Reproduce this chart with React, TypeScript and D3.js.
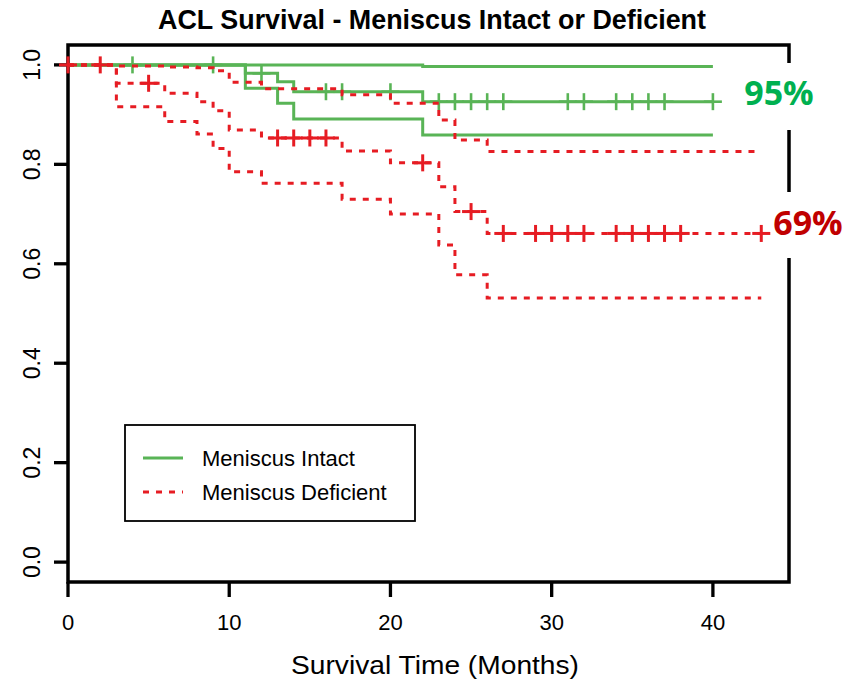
import React from "react";
import * as d3 from "d3";

// ---- Data ----
const xTicks = [0, 10, 20, 30, 40];
const yTicks = [0, 0.2, 0.4, 0.6, 0.8, 1.0];

// Meniscus Intact (step values hold from stepTime[i] until next step)
const intactStepTimes = [0, 11, 13, 14, 22];
const intactSurvival = [1.0, 0.983, 0.966, 0.946, 0.926];
const intactUpper = [1.0, 1.0, 1.0, 1.0, 0.997];
const intactLower = [1.0, 0.953, 0.923, 0.891, 0.859];
const intactEnd = 40;
const intactCensor = [4, 9, 12, 16, 17, 20, 23, 24, 25, 26, 27, 31, 32, 34, 35, 36, 37, 40];

// Meniscus Deficient
const deficientStepTimes = [0, 3, 6, 8, 9, 10, 12, 17, 20, 23, 24, 26];
const deficientSurvival = [1.0, 0.963, 0.943, 0.926, 0.908, 0.869, 0.853, 0.827, 0.803, 0.755, 0.705, 0.661];
const deficientUpper = [1.0, 0.998, 0.996, 0.994, 0.988, 0.965, 0.952, 0.94, 0.923, 0.889, 0.849, 0.826];
const deficientLower = [1.0, 0.916, 0.886, 0.861, 0.832, 0.785, 0.762, 0.73, 0.7, 0.638, 0.578, 0.531];
const deficientEnd = 43;
const deficientCensor = [0, 2, 5, 13, 14, 15, 16, 22, 25, 27, 29, 30, 31, 32, 34, 35, 36, 37, 38, 43];

const legendLabels = ["Meniscus Intact", "Meniscus Deficient"];
const intactLabel = "95%";
const deficientLabel = "69%";

const GREEN = "#59b456";
const RED = "#e61c23";

export default function App() {
  const left = 68, right = 789, top = 45, bottom = 582;
  const x = d3.scaleLinear().domain([0, 44.72]).range([left, right]);
  const y = d3.scaleLinear().domain([-0.04, 1.04]).range([bottom, top]);

  const line = d3
    .line<[number, number]>()
    .x((d) => x(d[0]))
    .y((d) => y(d[1]))
    .curve(d3.curveStepAfter);

  const stepPath = (times: number[], vals: number[], end: number) => {
    const pts: [number, number][] = times.map((t, i) => [t, vals[i]]);
    pts.push([end, vals[vals.length - 1]]);
    return line(pts) || "";
  };

  const valueAt = (times: number[], vals: number[], t: number) => {
    let v = vals[0];
    for (let i = 0; i < times.length; i++) if (times[i] <= t) v = vals[i];
    return v;
  };

  const sans = "'Liberation Sans', Arial, Helvetica, sans-serif";
  const narrow = "'Liberation Sans Narrow', 'Arial Narrow', 'Liberation Sans', Arial, sans-serif";
  const labelFont = "'Open Sans', 'Noto Sans', sans-serif";
  const dash = "6 7";

  const plus = (cx: number, cy: number, color: string, key: string, sw: number) => (
    <g key={key} stroke={color} strokeWidth={sw}>
      <line x1={cx - 9} x2={cx + 9} y1={cy} y2={cy} />
      <line x1={cx} x2={cx} y1={cy - 8.5} y2={cy + 8.5} />
    </g>
  );

  return (
    <svg width={851} height={682} style={{ position: "absolute", left: 0, top: 0, background: "#fff" }}>
      <rect x={0} y={0} width={851} height={682} fill="#fff" />
      {/* Title */}
      <text
        x={432}
        y={29}
        textAnchor="middle"
        fontFamily={narrow}
        fontWeight="bold"
        fontSize={27}
        textLength={548}
        lengthAdjust="spacingAndGlyphs"
      >
        ACL Survival - Meniscus Intact or Deficient
      </text>

      {/* Box */}
      <rect x={left} y={top} width={right - left} height={bottom - top} fill="none" stroke="#000" strokeWidth={3.5} />

      {/* X axis ticks */}
      {xTicks.map((t) => (
        <g key={"xt" + t}>
          <line x1={x(t)} x2={x(t)} y1={bottom} y2={bottom + 15} stroke="#000" strokeWidth={3.3} />
          <text x={x(t)} y={630} textAnchor="middle" fontFamily={sans} fontSize={22}>
            {t}
          </text>
        </g>
      ))}
      <text
        x={435}
        y={674}
        textAnchor="middle"
        fontFamily={sans}
        fontSize={26}
        textLength={288}
        lengthAdjust="spacingAndGlyphs"
      >
        Survival Time (Months)
      </text>

      {/* Y axis ticks */}
      {yTicks.map((t) => (
        <g key={"yt" + t}>
          <line x1={left - 14} x2={left} y1={y(t)} y2={y(t)} stroke="#000" strokeWidth={3.3} />
          <text
            transform={`translate(40,${y(t)}) rotate(-90)`}
            textAnchor="middle"
            fontFamily={sans}
            fontSize={23}
          >
            {t.toFixed(1)}
          </text>
        </g>
      ))}

      {/* Meniscus Intact (green) */}
      <g fill="none" stroke={GREEN} strokeWidth={3}>
        <path d={stepPath(intactStepTimes, intactUpper, intactEnd)} />
        <path d={stepPath(intactStepTimes, intactLower, intactEnd)} />
        <path d={stepPath(intactStepTimes, intactSurvival, intactEnd)} />
      </g>
      {intactCensor.map((t, i) =>
        plus(x(t), y(valueAt(intactStepTimes, intactSurvival, t)), GREEN, "gc" + i, 2.6)
      )}

      {/* Meniscus Deficient (red dashed) */}
      <g fill="none" stroke={RED} strokeWidth={3} strokeDasharray={dash}>
        <path d={stepPath(deficientStepTimes, deficientUpper, deficientEnd)} />
        <path d={stepPath(deficientStepTimes, deficientLower, deficientEnd)} />
        <path d={stepPath(deficientStepTimes, deficientSurvival, deficientEnd)} />
      </g>
      {deficientCensor.map((t, i) =>
        plus(x(t), y(valueAt(deficientStepTimes, deficientSurvival, t)), RED, "rc" + i, 3)
      )}

      {/* Legend */}
      <rect x={125} y={425} width={290} height={96} fill="#fff" stroke="#000" strokeWidth={1.8} />
      <line x1={143} x2={183} y1={458} y2={458} stroke={GREEN} strokeWidth={3} />
      <line x1={143} x2={183} y1={492} y2={492} stroke={RED} strokeWidth={3} strokeDasharray={dash} />
      <text x={202} y={466} fontFamily={sans} fontSize={22}>
        {legendLabels[0]}
      </text>
      <text x={202} y={500} fontFamily={sans} fontSize={22}>
        {legendLabels[1]}
      </text>

      {/* Annotations */}
      <rect x={730} y={63} width={121} height={67} fill="#fff" />
      <text x={779} y={105} textAnchor="middle" fontFamily={labelFont} fontWeight={700} fontStyle="normal" fontSize={34} fill="#00b050">
        {intactLabel}
      </text>
      <rect x={771} y={192} width={80} height={66} fill="#fff" />
      <text x={808} y={235} textAnchor="middle" fontFamily={labelFont} fontWeight={700} fontStyle="normal" fontSize={34} fill="#c00000">
        {deficientLabel}
      </text>
    </svg>
  );
}
